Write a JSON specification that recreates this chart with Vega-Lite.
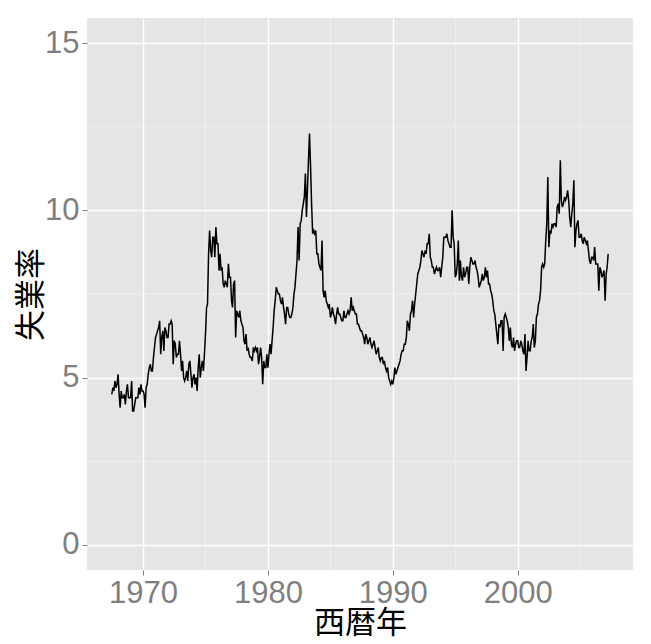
{
"$schema": "https://vega.github.io/schema/vega-lite/v6.json",
"width": 546, "height": 552,
"autosize": {"type": "none"},
"padding": {"left": 87, "top": 18, "right": 18, "bottom": 74},
"background": "white",
"datasets": {
"econ": [
{"d":"1967-07-01","u":4.5},{"d":"1967-08-01","u":4.7},{"d":"1967-09-01","u":4.6},{"d":"1967-10-01","u":4.9},{"d":"1967-11-01","u":4.7},{"d":"1967-12-01","u":4.8},
{"d":"1968-01-01","u":5.1},{"d":"1968-02-01","u":4.5},{"d":"1968-03-01","u":4.1},{"d":"1968-04-01","u":4.6},{"d":"1968-05-01","u":4.4},{"d":"1968-06-01","u":4.4},{"d":"1968-07-01","u":4.5},{"d":"1968-08-01","u":4.2},{"d":"1968-09-01","u":4.6},{"d":"1968-10-01","u":4.8},{"d":"1968-11-01","u":4.4},{"d":"1968-12-01","u":4.4},
{"d":"1969-01-01","u":4.4},{"d":"1969-02-01","u":4.9},{"d":"1969-03-01","u":4.0},{"d":"1969-04-01","u":4.0},{"d":"1969-05-01","u":4.2},{"d":"1969-06-01","u":4.4},{"d":"1969-07-01","u":4.4},{"d":"1969-08-01","u":4.4},{"d":"1969-09-01","u":4.7},{"d":"1969-10-01","u":4.5},{"d":"1969-11-01","u":4.8},{"d":"1969-12-01","u":4.6},
{"d":"1970-01-01","u":4.6},{"d":"1970-02-01","u":4.5},{"d":"1970-03-01","u":4.1},{"d":"1970-04-01","u":4.7},{"d":"1970-05-01","u":4.8},{"d":"1970-06-01","u":5.1},{"d":"1970-07-01","u":5.3},{"d":"1970-08-01","u":5.4},{"d":"1970-09-01","u":5.2},{"d":"1970-10-01","u":5.2},{"d":"1970-11-01","u":5.6},{"d":"1970-12-01","u":5.9},
{"d":"1971-01-01","u":6.2},{"d":"1971-02-01","u":6.3},{"d":"1971-03-01","u":6.4},{"d":"1971-04-01","u":6.5},{"d":"1971-05-01","u":6.7},{"d":"1971-06-01","u":5.7},{"d":"1971-07-01","u":6.2},{"d":"1971-08-01","u":6.4},{"d":"1971-09-01","u":5.8},{"d":"1971-10-01","u":6.5},{"d":"1971-11-01","u":6.4},{"d":"1971-12-01","u":6.2},
{"d":"1972-01-01","u":6.2},{"d":"1972-02-01","u":6.6},{"d":"1972-03-01","u":6.6},{"d":"1972-04-01","u":6.7},{"d":"1972-05-01","u":6.6},{"d":"1972-06-01","u":5.4},{"d":"1972-07-01","u":6.1},{"d":"1972-08-01","u":6.0},{"d":"1972-09-01","u":5.6},{"d":"1972-10-01","u":5.7},{"d":"1972-11-01","u":5.7},{"d":"1972-12-01","u":6.1},
{"d":"1973-01-01","u":5.7},{"d":"1973-02-01","u":5.2},{"d":"1973-03-01","u":5.5},{"d":"1973-04-01","u":5.0},{"d":"1973-05-01","u":4.9},{"d":"1973-06-01","u":5.0},{"d":"1973-07-01","u":5.2},{"d":"1973-08-01","u":4.9},{"d":"1973-09-01","u":5.4},{"d":"1973-10-01","u":5.5},{"d":"1973-11-01","u":5.1},{"d":"1973-12-01","u":4.7},
{"d":"1974-01-01","u":5.0},{"d":"1974-02-01","u":5.1},{"d":"1974-03-01","u":4.8},{"d":"1974-04-01","u":5.0},{"d":"1974-05-01","u":4.6},{"d":"1974-06-01","u":5.3},{"d":"1974-07-01","u":5.7},{"d":"1974-08-01","u":5.0},{"d":"1974-09-01","u":5.3},{"d":"1974-10-01","u":5.5},{"d":"1974-11-01","u":5.2},{"d":"1974-12-01","u":5.7},
{"d":"1975-01-01","u":6.3},{"d":"1975-02-01","u":7.1},{"d":"1975-03-01","u":7.2},{"d":"1975-04-01","u":8.7},{"d":"1975-05-01","u":9.4},{"d":"1975-06-01","u":8.8},{"d":"1975-07-01","u":8.6},{"d":"1975-08-01","u":9.2},{"d":"1975-09-01","u":9.2},{"d":"1975-10-01","u":8.6},{"d":"1975-11-01","u":9.5},{"d":"1975-12-01","u":9.0},
{"d":"1976-01-01","u":9.0},{"d":"1976-02-01","u":8.2},{"d":"1976-03-01","u":8.7},{"d":"1976-04-01","u":8.2},{"d":"1976-05-01","u":8.3},{"d":"1976-06-01","u":7.8},{"d":"1976-07-01","u":7.7},{"d":"1976-08-01","u":7.9},{"d":"1976-09-01","u":7.8},{"d":"1976-10-01","u":7.7},{"d":"1976-11-01","u":8.4},{"d":"1976-12-01","u":8.0},
{"d":"1977-01-01","u":8.0},{"d":"1977-02-01","u":7.3},{"d":"1977-03-01","u":7.1},{"d":"1977-04-01","u":7.8},{"d":"1977-05-01","u":7.9},{"d":"1977-06-01","u":6.2},{"d":"1977-07-01","u":7.0},{"d":"1977-08-01","u":6.9},{"d":"1977-09-01","u":6.8},{"d":"1977-10-01","u":7.0},{"d":"1977-11-01","u":6.7},{"d":"1977-12-01","u":6.6},
{"d":"1978-01-01","u":6.5},{"d":"1978-02-01","u":6.1},{"d":"1978-03-01","u":6.0},{"d":"1978-04-01","u":6.3},{"d":"1978-05-01","u":5.8},{"d":"1978-06-01","u":5.9},{"d":"1978-07-01","u":5.7},{"d":"1978-08-01","u":5.6},{"d":"1978-09-01","u":5.6},{"d":"1978-10-01","u":5.5},{"d":"1978-11-01","u":5.9},{"d":"1978-12-01","u":5.8},
{"d":"1979-01-01","u":5.9},{"d":"1979-02-01","u":5.8},{"d":"1979-03-01","u":5.9},{"d":"1979-04-01","u":5.4},{"d":"1979-05-01","u":5.6},{"d":"1979-06-01","u":5.9},{"d":"1979-07-01","u":5.6},{"d":"1979-08-01","u":4.8},{"d":"1979-09-01","u":5.5},{"d":"1979-10-01","u":5.3},{"d":"1979-11-01","u":5.3},{"d":"1979-12-01","u":5.7},
{"d":"1980-01-01","u":5.3},{"d":"1980-02-01","u":5.7},{"d":"1980-03-01","u":6.0},{"d":"1980-04-01","u":5.7},{"d":"1980-05-01","u":6.1},{"d":"1980-06-01","u":6.5},{"d":"1980-07-01","u":7.0},{"d":"1980-08-01","u":7.3},{"d":"1980-09-01","u":7.7},{"d":"1980-10-01","u":7.6},{"d":"1980-11-01","u":7.5},{"d":"1980-12-01","u":7.5},
{"d":"1981-01-01","u":7.3},{"d":"1981-02-01","u":7.2},{"d":"1981-03-01","u":7.4},{"d":"1981-04-01","u":7.1},{"d":"1981-05-01","u":6.9},{"d":"1981-06-01","u":6.6},{"d":"1981-07-01","u":7.1},{"d":"1981-08-01","u":7.1},{"d":"1981-09-01","u":6.9},{"d":"1981-10-01","u":6.8},{"d":"1981-11-01","u":6.8},{"d":"1981-12-01","u":6.9},
{"d":"1982-01-01","u":7.1},{"d":"1982-02-01","u":7.5},{"d":"1982-03-01","u":7.7},{"d":"1982-04-01","u":8.1},{"d":"1982-05-01","u":8.5},{"d":"1982-06-01","u":9.5},{"d":"1982-07-01","u":8.5},{"d":"1982-08-01","u":9.6},{"d":"1982-09-01","u":9.7},{"d":"1982-10-01","u":10.0},{"d":"1982-11-01","u":10.2},{"d":"1982-12-01","u":10.4},
{"d":"1983-01-01","u":11.1},{"d":"1983-02-01","u":9.8},{"d":"1983-03-01","u":10.6},{"d":"1983-04-01","u":11.5},{"d":"1983-05-01","u":12.3},{"d":"1983-06-01","u":11.3},{"d":"1983-07-01","u":10.2},{"d":"1983-08-01","u":9.3},{"d":"1983-09-01","u":9.4},{"d":"1983-10-01","u":9.3},{"d":"1983-11-01","u":9.4},{"d":"1983-12-01","u":8.7},
{"d":"1984-01-01","u":8.7},{"d":"1984-02-01","u":8.4},{"d":"1984-03-01","u":8.3},{"d":"1984-04-01","u":8.2},{"d":"1984-05-01","u":9.1},{"d":"1984-06-01","u":7.6},{"d":"1984-07-01","u":7.4},{"d":"1984-08-01","u":7.6},{"d":"1984-09-01","u":7.3},{"d":"1984-10-01","u":7.2},{"d":"1984-11-01","u":7.1},{"d":"1984-12-01","u":7.2},
{"d":"1985-01-01","u":6.8},{"d":"1985-02-01","u":6.9},{"d":"1985-03-01","u":7.1},{"d":"1985-04-01","u":6.9},{"d":"1985-05-01","u":6.8},{"d":"1985-06-01","u":6.6},{"d":"1985-07-01","u":6.9},{"d":"1985-08-01","u":7.1},{"d":"1985-09-01","u":6.9},{"d":"1985-10-01","u":6.9},{"d":"1985-11-01","u":6.8},{"d":"1985-12-01","u":6.7},
{"d":"1986-01-01","u":6.7},{"d":"1986-02-01","u":7.0},{"d":"1986-03-01","u":6.8},{"d":"1986-04-01","u":6.8},{"d":"1986-05-01","u":6.9},{"d":"1986-06-01","u":7.0},{"d":"1986-07-01","u":6.9},{"d":"1986-08-01","u":7.0},{"d":"1986-09-01","u":7.4},{"d":"1986-10-01","u":7.0},{"d":"1986-11-01","u":7.1},{"d":"1986-12-01","u":7.0},
{"d":"1987-01-01","u":6.9},{"d":"1987-02-01","u":6.9},{"d":"1987-03-01","u":6.6},{"d":"1987-04-01","u":6.6},{"d":"1987-05-01","u":6.5},{"d":"1987-06-01","u":6.4},{"d":"1987-07-01","u":6.4},{"d":"1987-08-01","u":6.3},{"d":"1987-09-01","u":6.2},{"d":"1987-10-01","u":6.0},{"d":"1987-11-01","u":6.3},{"d":"1987-12-01","u":6.2},
{"d":"1988-01-01","u":6.0},{"d":"1988-02-01","u":6.1},{"d":"1988-03-01","u":6.2},{"d":"1988-04-01","u":6.0},{"d":"1988-05-01","u":5.9},{"d":"1988-06-01","u":6.0},{"d":"1988-07-01","u":6.1},{"d":"1988-08-01","u":5.9},{"d":"1988-09-01","u":5.7},{"d":"1988-10-01","u":5.8},{"d":"1988-11-01","u":5.9},{"d":"1988-12-01","u":5.6},
{"d":"1989-01-01","u":5.5},{"d":"1989-02-01","u":5.6},{"d":"1989-03-01","u":5.6},{"d":"1989-04-01","u":5.4},{"d":"1989-05-01","u":5.5},{"d":"1989-06-01","u":5.3},{"d":"1989-07-01","u":5.2},{"d":"1989-08-01","u":5.3},{"d":"1989-09-01","u":5.0},{"d":"1989-10-01","u":4.9},{"d":"1989-11-01","u":4.8},{"d":"1989-12-01","u":4.9},
{"d":"1990-01-01","u":4.8},{"d":"1990-02-01","u":5.0},{"d":"1990-03-01","u":5.3},{"d":"1990-04-01","u":5.1},{"d":"1990-05-01","u":5.2},{"d":"1990-06-01","u":5.3},{"d":"1990-07-01","u":5.4},{"d":"1990-08-01","u":5.5},{"d":"1990-09-01","u":5.7},{"d":"1990-10-01","u":5.8},{"d":"1990-11-01","u":5.8},{"d":"1990-12-01","u":6.0},
{"d":"1991-01-01","u":6.0},{"d":"1991-02-01","u":6.2},{"d":"1991-03-01","u":6.7},{"d":"1991-04-01","u":6.6},{"d":"1991-05-01","u":6.4},{"d":"1991-06-01","u":6.9},{"d":"1991-07-01","u":7.0},{"d":"1991-08-01","u":7.3},{"d":"1991-09-01","u":6.8},{"d":"1991-10-01","u":7.2},{"d":"1991-11-01","u":7.5},{"d":"1991-12-01","u":7.8},
{"d":"1992-01-01","u":8.1},{"d":"1992-02-01","u":8.2},{"d":"1992-03-01","u":8.3},{"d":"1992-04-01","u":8.5},{"d":"1992-05-01","u":8.8},{"d":"1992-06-01","u":8.7},{"d":"1992-07-01","u":8.6},{"d":"1992-08-01","u":8.8},{"d":"1992-09-01","u":8.7},{"d":"1992-10-01","u":9.0},{"d":"1992-11-01","u":9.0},{"d":"1992-12-01","u":9.3},
{"d":"1993-01-01","u":8.6},{"d":"1993-02-01","u":8.5},{"d":"1993-03-01","u":8.3},{"d":"1993-04-01","u":8.3},{"d":"1993-05-01","u":8.1},{"d":"1993-06-01","u":8.2},{"d":"1993-07-01","u":8.3},{"d":"1993-08-01","u":8.2},{"d":"1993-09-01","u":8.2},{"d":"1993-10-01","u":8.3},{"d":"1993-11-01","u":8.0},{"d":"1993-12-01","u":8.3},
{"d":"1994-01-01","u":8.6},{"d":"1994-02-01","u":9.2},{"d":"1994-03-01","u":9.2},{"d":"1994-04-01","u":9.2},{"d":"1994-05-01","u":9.3},{"d":"1994-06-01","u":9.1},{"d":"1994-07-01","u":9.0},{"d":"1994-08-01","u":8.9},{"d":"1994-09-01","u":8.9},{"d":"1994-10-01","u":10.0},{"d":"1994-11-01","u":9.2},{"d":"1994-12-01","u":9.0},
{"d":"1995-01-01","u":8.0},{"d":"1995-02-01","u":8.1},{"d":"1995-03-01","u":8.4},{"d":"1995-04-01","u":9.1},{"d":"1995-05-01","u":7.9},{"d":"1995-06-01","u":8.5},{"d":"1995-07-01","u":8.0},{"d":"1995-08-01","u":7.9},{"d":"1995-09-01","u":8.3},{"d":"1995-10-01","u":8.0},{"d":"1995-11-01","u":8.1},{"d":"1995-12-01","u":8.3},
{"d":"1996-01-01","u":8.3},{"d":"1996-02-01","u":7.8},{"d":"1996-03-01","u":8.3},{"d":"1996-04-01","u":8.6},{"d":"1996-05-01","u":8.5},{"d":"1996-06-01","u":8.4},{"d":"1996-07-01","u":8.4},{"d":"1996-08-01","u":8.5},{"d":"1996-09-01","u":8.3},{"d":"1996-10-01","u":8.2},{"d":"1996-11-01","u":8.0},{"d":"1996-12-01","u":7.7},
{"d":"1997-01-01","u":7.8},{"d":"1997-02-01","u":7.9},{"d":"1997-03-01","u":8.1},{"d":"1997-04-01","u":7.9},{"d":"1997-05-01","u":8.0},{"d":"1997-06-01","u":8.3},{"d":"1997-07-01","u":8.0},{"d":"1997-08-01","u":8.2},{"d":"1997-09-01","u":7.8},{"d":"1997-10-01","u":7.8},{"d":"1997-11-01","u":7.6},{"d":"1997-12-01","u":7.5},
{"d":"1998-01-01","u":7.3},{"d":"1998-02-01","u":7.0},{"d":"1998-03-01","u":6.9},{"d":"1998-04-01","u":6.6},{"d":"1998-05-01","u":6.3},{"d":"1998-06-01","u":6.0},{"d":"1998-07-01","u":6.6},{"d":"1998-08-01","u":6.5},{"d":"1998-09-01","u":6.7},{"d":"1998-10-01","u":6.7},{"d":"1998-11-01","u":5.8},{"d":"1998-12-01","u":6.8},
{"d":"1999-01-01","u":6.9},{"d":"1999-02-01","u":6.8},{"d":"1999-03-01","u":6.7},{"d":"1999-04-01","u":6.5},{"d":"1999-05-01","u":6.1},{"d":"1999-06-01","u":6.5},{"d":"1999-07-01","u":6.0},{"d":"1999-08-01","u":5.9},{"d":"1999-09-01","u":6.2},{"d":"1999-10-01","u":5.8},{"d":"1999-11-01","u":6.0},{"d":"1999-12-01","u":6.1},
{"d":"2000-01-01","u":6.1},{"d":"2000-02-01","u":5.9},{"d":"2000-03-01","u":5.9},{"d":"2000-04-01","u":6.1},{"d":"2000-05-01","u":6.0},{"d":"2000-06-01","u":5.8},{"d":"2000-07-01","u":5.7},{"d":"2000-08-01","u":6.3},{"d":"2000-09-01","u":5.2},{"d":"2000-10-01","u":5.6},{"d":"2000-11-01","u":6.1},{"d":"2000-12-01","u":5.8},
{"d":"2001-01-01","u":5.8},{"d":"2001-02-01","u":6.1},{"d":"2001-03-01","u":6.2},{"d":"2001-04-01","u":6.6},{"d":"2001-05-01","u":5.9},{"d":"2001-06-01","u":6.1},{"d":"2001-07-01","u":6.8},{"d":"2001-08-01","u":6.9},{"d":"2001-09-01","u":7.2},{"d":"2001-10-01","u":7.3},{"d":"2001-11-01","u":7.6},{"d":"2001-12-01","u":8.3},
{"d":"2002-01-01","u":8.4},{"d":"2002-02-01","u":8.3},{"d":"2002-03-01","u":8.4},{"d":"2002-04-01","u":9.1},{"d":"2002-05-01","u":9.6},{"d":"2002-06-01","u":11.0},{"d":"2002-07-01","u":8.9},{"d":"2002-08-01","u":9.4},{"d":"2002-09-01","u":9.3},{"d":"2002-10-01","u":9.6},{"d":"2002-11-01","u":9.5},{"d":"2002-12-01","u":9.6},
{"d":"2003-01-01","u":9.6},{"d":"2003-02-01","u":9.5},{"d":"2003-03-01","u":10.1},{"d":"2003-04-01","u":10.2},{"d":"2003-05-01","u":9.9},{"d":"2003-06-01","u":11.5},{"d":"2003-07-01","u":10.3},{"d":"2003-08-01","u":10.1},{"d":"2003-09-01","u":10.2},{"d":"2003-10-01","u":10.4},{"d":"2003-11-01","u":10.3},{"d":"2003-12-01","u":10.4},
{"d":"2004-01-01","u":10.6},{"d":"2004-02-01","u":10.3},{"d":"2004-03-01","u":9.8},{"d":"2004-04-01","u":9.5},{"d":"2004-05-01","u":9.9},{"d":"2004-06-01","u":10.2},{"d":"2004-07-01","u":10.9},{"d":"2004-08-01","u":8.9},{"d":"2004-09-01","u":9.4},{"d":"2004-10-01","u":9.6},{"d":"2004-11-01","u":9.7},{"d":"2004-12-01","u":9.2},
{"d":"2005-01-01","u":9.2},{"d":"2005-02-01","u":9.3},{"d":"2005-03-01","u":9.1},{"d":"2005-04-01","u":9.0},{"d":"2005-05-01","u":9.2},{"d":"2005-06-01","u":9.1},{"d":"2005-07-01","u":9.0},{"d":"2005-08-01","u":9.1},{"d":"2005-09-01","u":8.8},{"d":"2005-10-01","u":8.5},{"d":"2005-11-01","u":8.4},{"d":"2005-12-01","u":8.6},
{"d":"2006-01-01","u":8.6},{"d":"2006-02-01","u":8.5},{"d":"2006-03-01","u":8.9},{"d":"2006-04-01","u":8.4},{"d":"2006-05-01","u":8.4},{"d":"2006-06-01","u":8.4},{"d":"2006-07-01","u":7.6},{"d":"2006-08-01","u":8.3},{"d":"2006-09-01","u":8.2},{"d":"2006-10-01","u":8.0},{"d":"2006-11-01","u":8.1},{"d":"2006-12-01","u":8.2},
{"d":"2007-01-01","u":7.3},{"d":"2007-02-01","u":8.1},{"d":"2007-03-01","u":8.3},{"d":"2007-04-01","u":8.7}
],
"minorX": [{"d":"1975-01-01"},{"d":"1985-01-01"},{"d":"1995-01-01"},{"d":"2005-01-01"}],
"minorY": [{"u":2.5},{"u":7.5},{"u":12.5}]
},
"config": {
"view": {"fill": "#E5E5E5", "stroke": null},
"axis": {"domain": false, "grid": true, "gridColor": "#FFFFFF", "gridWidth": 1.4, "tickColor": "#7F7F7F", "tickSize": 5, "tickWidth": 1, "labelColor": "#7F7F7F", "labelFont": "Liberation Sans", "labelFontSize": 31, "titleFont": "Noto Sans CJK JP", "titleFontSize": 31, "titleFontWeight": "normal", "titleColor": "#000000"},
"axisX": {"labelPadding": 3, "titlePadding": 0},
"axisY": {"labelPadding": 3, "titlePadding": -3}
},
"layer": [
{"data": {"name": "minorX"}, "mark": {"type": "rule", "color": "#F2F2F2", "strokeWidth": 0.8},
 "encoding": {"x": {"field": "d", "type": "temporal", "title": "西暦年", "scale": {"type": "utc", "domain": [{"year":1965,"month":7,"date":6,"utc":true},{"year":2009,"month":3,"date":27,"utc":true}]},
   "axis": {"values": [{"year":1970,"utc":true},{"year":1980,"utc":true},{"year":1990,"utc":true},{"year":2000,"utc":true}], "format": "%Y", "formatType": "utc"}}}},
{"data": {"name": "minorY"}, "mark": {"type": "rule", "color": "#F2F2F2", "strokeWidth": 0.8},
 "encoding": {"y": {"field": "u", "type": "quantitative", "title": "失業率", "scale": {"domain": [-0.75, 15.75], "nice": false, "zero": false}, "axis": {"values": [0, 5, 10, 15]}}}},
{"data": {"name": "econ"}, "mark": {"type": "line", "color": "#000000", "strokeWidth": 1.5},
 "encoding": {
  "x": {"field": "d", "type": "temporal", "title": "西暦年", "scale": {"type": "utc", "domain": [{"year":1965,"month":7,"date":6,"utc":true},{"year":2009,"month":3,"date":27,"utc":true}]},
        "axis": {"values": [{"year":1970,"utc":true},{"year":1980,"utc":true},{"year":1990,"utc":true},{"year":2000,"utc":true}], "format": "%Y", "formatType": "utc"}},
  "y": {"field": "u", "type": "quantitative", "title": "失業率", "scale": {"domain": [-0.75, 15.75], "nice": false, "zero": false},
        "axis": {"values": [0, 5, 10, 15]}}
 }}
]
}
